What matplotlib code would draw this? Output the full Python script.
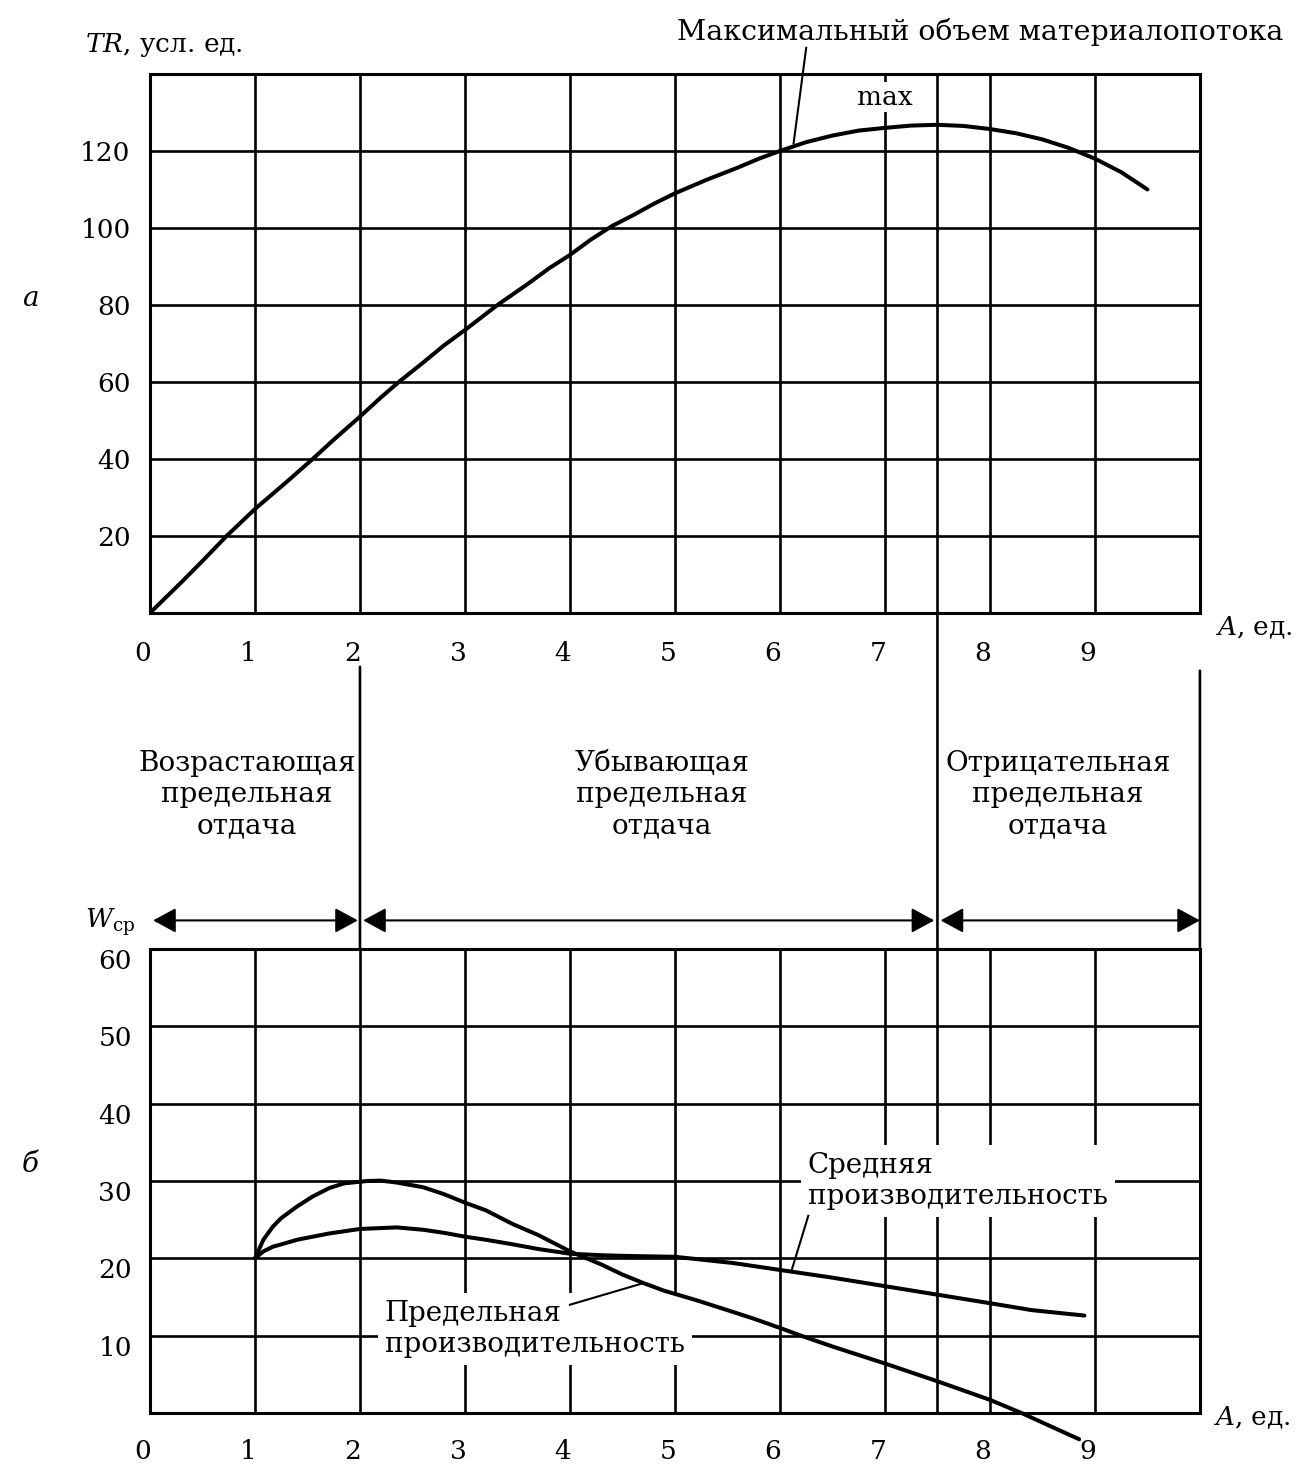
import numpy as np
import matplotlib.pyplot as plt
from matplotlib.patches import ConnectionPatch
from matplotlib.transforms import ScaledTranslation

# верхний график: объем материалопотока TR
tr_a = [0, 0.3, 0.5, 0.73, 1, 1.3, 1.55, 1.75, 2, 2.2, 2.37, 2.6, 2.8, 3, 3.31, 3.6, 3.8,
        4, 4.2, 4.4, 4.6, 4.8, 5, 5.3, 5.6, 5.8, 6, 6.25, 6.5, 6.75, 7, 7.25, 7.5,
        7.75, 8, 8.25, 8.5, 8.75, 9, 9.25, 9.5]
tr_val = [0, 8, 13.5, 20, 27, 34, 40, 45, 51, 56, 60, 65, 69.5, 73.5, 80, 85.5, 89.5,
          93, 97, 100.5, 103.3, 106.3, 109, 112.5, 115.7, 118, 120, 122.3, 124, 125.3,
          126, 126.6, 126.8, 126.5, 125.7, 124.6, 123, 120.8, 118, 114.5, 110]

# нижний график: предельная и средняя производительность
marg_a = [1, 1.04, 1.08, 1.17, 1.25, 1.4, 1.55, 1.71, 1.85, 2.07, 2.2, 2.35, 2.6, 2.8,
          3, 3.2, 3.46, 3.7, 4, 4.3, 4.5, 4.7, 4.9, 5.2, 5.5, 5.75, 6, 6.2, 6.5, 7,
          7.5, 8, 8.3, 8.85]
marg_w = [20, 21.2, 22.4, 24.1, 25.2, 26.7, 28.0, 29.1, 29.7, 30.0, 30.05, 29.8, 29.2,
          28.3, 27.2, 26.2, 24.4, 23.0, 20.9, 19.2, 17.9, 16.8, 15.8, 14.6, 13.3, 12.2,
          11.0, 10.0, 8.6, 6.4, 4.1, 1.7, 0, -3.4]
avg_a = [1, 1.08, 1.17, 1.3, 1.4, 1.7, 2, 2.35, 2.6, 2.8, 3, 3.2, 3.46, 3.7, 4, 4.3,
         4.57, 5, 5.55, 6, 6.5, 7, 7.5, 8, 8.4, 8.9]
avg_w = [20, 20.9, 21.5, 22.0, 22.4, 23.2, 23.8, 24.0, 23.7, 23.3, 22.8, 22.4, 21.8,
         21.2, 20.6, 20.4, 20.3, 20.2, 19.4, 18.5, 17.5, 16.4, 15.3, 14.2, 13.3, 12.6]

x_ticks = list(range(10))
top_yticks = [20, 40, 60, 80, 100, 120]
bot_yticks = [10, 20, 30, 40, 50, 60]
zones = ['Возрастающая\nпредельная\nотдача', 'Убывающая\nпредельная\nотдача',
         'Отрицательная\nпредельная\nотдача']

W, H = 1303, 1465


def px(x, y):
    return x / W, 1 - y / H


plt.rcParams['font.family'] = 'DejaVu Serif'
plt.rcParams['mathtext.fontset'] = 'dejavuserif'

fig = plt.figure(figsize=(W / 100, H / 100), dpi=100)
ax1 = fig.add_axes([0.1151, 0.5816, 0.8058, 0.3679])
ax2 = fig.add_axes([0.1151, 0.0355, 0.8058, 0.3167])

grid_kw = dict(color='k', lw=1.9, zorder=1)
for ax in (ax1, ax2):
    ax.set_xlim(0, 10)
    for x in list(range(1, 10)) + [7.5]:
        ax.axvline(x, **grid_kw)
    for s in ax.spines.values():
        s.set_linewidth(2.2)
    ax.set_xticks(x_ticks)
    ax.set_xticklabels([str(t) for t in x_ticks])
ax1.set_ylim(0, 140)
ax2.set_ylim(0, 60)
for y in top_yticks:
    ax1.axhline(y, **grid_kw)
for y in bot_yticks[:-1]:
    ax2.axhline(y, **grid_kw)
ax1.set_yticks(top_yticks)
ax2.set_yticks(bot_yticks)
ax1.tick_params(length=0, labelsize=19)
ax2.tick_params(length=0, labelsize=19)
ax1.tick_params(axis='x', pad=20)
ax2.tick_params(axis='x', pad=19)
ax1.tick_params(axis='y', pad=14)
ax2.tick_params(axis='y', pad=13)

shift_x = ScaledTranslation(-0.07, 0, fig.dpi_scale_trans)
for ax in (ax1, ax2):
    for lab in ax.get_xticklabels():
        lab.set_transform(lab.get_transform() + shift_x)
shift_y = ScaledTranslation(0, -0.1, fig.dpi_scale_trans)
for lab in ax2.get_yticklabels():
    lab.set_transform(lab.get_transform() + shift_y)

# кривые
curve_kw = dict(color='k', lw=2.9, zorder=5, solid_joinstyle='round',
                solid_capstyle='round')
ax1.plot(tr_a, tr_val, **curve_kw)
ax2.plot(marg_a, marg_w, clip_on=False, **curve_kw)
ax2.plot(avg_a, avg_w, **curve_kw)

# вертикальные разделители между графиками
for xv, ya in [(2, -14), (7.5, 0), (10, -15)]:
    con = ConnectionPatch(xyA=(xv, ya), coordsA=ax1.transData, xyB=(xv, 60),
                          coordsB=ax2.transData, color='k', lw=1.9)
    fig.add_artist(con)

# стрелки зон
for a, b in [(0.03, 1.98), (2.03, 7.47), (7.53, 10.0)]:
    ax2.annotate('', xy=(b, 63.7), xytext=(a, 63.7), annotation_clip=False,
                 arrowprops=dict(arrowstyle='<|-|>,head_length=0.7,head_width=0.38',
                                 mutation_scale=20, lw=1.5, color='k',
                                 shrinkA=0, shrinkB=0))

for txt, xc in zip(zones, [247, 662, 1058]):
    fig.text(*px(xc, 795), txt, ha='center', va='center', fontsize=20,
             linespacing=1.2, multialignment='center')

# подписи
fig.text(*px(980, 32), 'Максимальный объем материалопотока', ha='center',
         va='center', fontsize=20.5)
ax1.plot([6.25, 6.13], [146.8, 122], color='k', lw=1.5, clip_on=False, zorder=5)
ax1.text(7.0, 134, 'max', ha='center', va='center', fontsize=19, zorder=3,
         bbox=dict(fc='white', ec='none', pad=2))
fig.text(*px(85, 45), r'$TR$, усл. ед.', ha='left', va='center', fontsize=19)
fig.text(*px(1215, 628), r'$A$, ед.', ha='left', va='center', fontsize=19)
fig.text(*px(1213, 1418), r'$A$, ед.', ha='left', va='center', fontsize=19)
fig.text(*px(30, 298), 'а', ha='center', va='center', fontsize=20, style='italic')
fig.text(*px(30, 1165), 'б', ha='center', va='center', fontsize=20, style='italic')
fig.text(*px(85, 922), r'$W_{\mathrm{ср}}$', ha='left', va='center', fontsize=19)

ax2.text(*px(808, 1181), 'Средняя\nпроизводительность', transform=fig.transFigure,
         ha='left', va='center', fontsize=20, linespacing=1.2, zorder=4,
         bbox=dict(boxstyle='square,pad=0.25', fc='white', ec='none'))
ax2.plot([6.27, 6.11], [25.5, 18.4], color='k', lw=1.5, zorder=5)
ax2.text(*px(385, 1329), 'Предельная\nпроизводительность', transform=fig.transFigure,
         ha='left', va='center', fontsize=20, linespacing=1.2, zorder=4,
         bbox=dict(boxstyle='square,pad=0.25', fc='white', ec='none'))
ax2.plot([4.0, 4.7], [14.0, 16.8], color='k', lw=1.5, zorder=5)

fig.savefig('out.png', dpi=100, facecolor='white')
